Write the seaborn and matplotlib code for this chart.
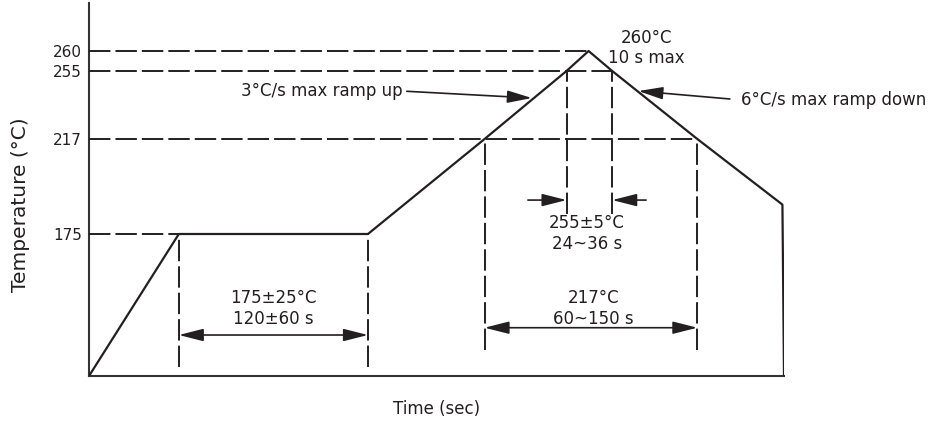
import numpy as np
import matplotlib
matplotlib.use("Agg")
import matplotlib.pyplot as plt
import seaborn as sns

# reflow profile (time in s, temperature in degC)
profile_time = [0, 57, 177, 251, 303, 317, 332, 386, 440, 441]
profile_temp = [25, 175, 175, 217, 255, 260, 255, 217, 188, 25]

# horizontal guide lines: level and the time where they meet the profile
h_levels = [260, 255, 217, 175]
h_ends = [317, 332, 386, 57]

# vertical guide lines
v_times = [57, 177, 251, 386, 303, 332]
v_tops = [175, 175, 217, 217, 255, 255]
v_bottoms = [34, 34, 52, 52, 184, 184]

tick_temps = [175, 217, 255, 260]

# the drawing is schematic: the temperature axis is not to scale
scale_temp = [25, 175, 217, 255, 260, 280]
scale_pos = [0, 142, 237, 305, 325, 373]

ink = "#231f20"

sns.set_style("ticks")
plt.rcParams["font.family"] = ["DejaVu Sans"]

fig = plt.figure(figsize=(9.3, 4.26), dpi=100)
ax = fig.add_axes([89 / 930, 50 / 426, 695 / 930, 373 / 426])

ax.set_yscale("function", functions=(lambda t: np.interp(t, scale_temp, scale_pos),
                                     lambda p: np.interp(p, scale_pos, scale_temp)))

sns.lineplot(x=profile_time, y=profile_temp, sort=False, estimator=None,
             color=ink, lw=1.6, ax=ax, zorder=5)

dash = (0, (11, 2.6))
for lvl, end in zip(h_levels, h_ends):
    ax.plot([0, end], [lvl, lvl], color=ink, lw=1.4, ls=dash, zorder=3)
for t, top, bot in zip(v_times, v_tops, v_bottoms):
    ax.plot([t, t], [bot, top], color=ink, lw=1.4, ls=dash, zorder=3)

ax.set_xlim(0, 441)
ax.set_ylim(25, 280)
ax.set_yticks(tick_temps)
ax.set_yticklabels([str(v) for v in tick_temps], fontsize=11, color=ink)
ax.set_xticks([])
ax.tick_params(axis="y", length=0, pad=5)
for s in ["left", "bottom"]:
    ax.spines[s].set_linewidth(1.5)
    ax.spines[s].set_color("#333333")
sns.despine(ax=ax)

ax.set_xlabel("Time (sec)", fontsize=12, color=ink)
ax.set_ylabel("Temperature (°C)", fontsize=14.5, color=ink)
ax.xaxis.set_label_coords(0.5, -0.065)
ax.yaxis.set_label_coords(-0.085, 0.458)

arrow2 = dict(arrowstyle="<|-|>,head_length=1.5,head_width=0.38", mutation_scale=10,
              shrinkA=0, shrinkB=0, color=ink, lw=1.2)
arrow1 = dict(arrowstyle="-|>,head_length=1.5,head_width=0.38", mutation_scale=10,
              shrinkA=0, shrinkB=0, color=ink, lw=1.2)

# soak window
ax.annotate("", xy=(177, 68.3), xytext=(57, 68.3), arrowprops=arrow2)
ax.text(117, 96.3, "175±25°C\n120±60 s", ha="center", va="center", fontsize=12,
        color=ink, linespacing=1.15)

# time above liquidus
ax.annotate("", xy=(386, 76), xytext=(251, 76), arrowprops=arrow2)
ax.text(320, 96.3, "217°C\n60~150 s", ha="center", va="center", fontsize=12,
        color=ink, linespacing=1.15)

# peak window
ax.annotate("", xy=(303, 190), xytext=(278.5, 190), arrowprops=arrow1)
ax.annotate("", xy=(332, 190), xytext=(353.5, 190), arrowprops=arrow1)
ax.text(316, 175.2, "255±5°C\n24~36 s", ha="center", va="center", fontsize=12,
        color=ink, linespacing=1.15)

ax.text(353.7, 261.25, "260°C\n10 s max", ha="center", va="center", fontsize=12,
        color=ink, linespacing=1.15)

# ramp rates
ax.annotate("3°C/s max ramp up", xy=(281, 239.9), xytext=(198.7, 243.8),
            ha="right", va="center", fontsize=12, color=ink,
            arrowprops=dict(arrowstyle="-|>,head_length=1.5,head_width=0.38",
                            mutation_scale=10, shrinkA=1, shrinkB=0, color=ink,
                            lw=1.2, relpos=(1, 0.5)))
ax.annotate("6°C/s max ramp down", xy=(348.6, 243.8), xytext=(414, 238.8),
            ha="left", va="center", fontsize=12, color=ink, annotation_clip=False,
            arrowprops=dict(arrowstyle="-|>,head_length=1.5,head_width=0.38",
                            mutation_scale=10, shrinkA=6, shrinkB=0, color=ink,
                            lw=1.2, relpos=(0, 0.5)))

fig.savefig("out.png", dpi=100)
